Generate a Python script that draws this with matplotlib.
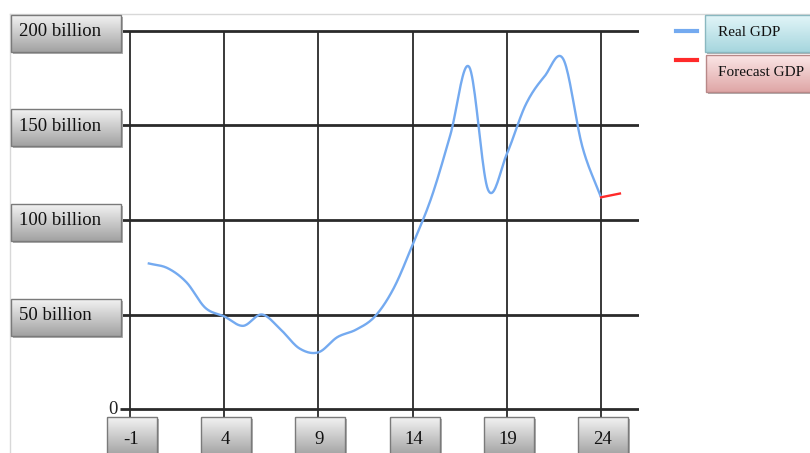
import numpy as np
import matplotlib
matplotlib.use("Agg")
import matplotlib.pyplot as plt
from matplotlib.colors import LinearSegmentedColormap
from matplotlib.patches import Rectangle
from matplotlib.lines import Line2D

# data
years = list(range(0, 25))
real_gdp = [77, 74.5, 67, 53.5, 49, 44, 50, 42, 32, 30, 38, 42, 49, 64, 87,
            112, 145, 181, 116, 135, 161, 176, 185, 139, 112]
forecast_years = [24, 25]
forecast_gdp = [112, 114]
xticks = [-1, 4, 9, 14, 19, 24]
yticks = [0, 50, 100, 150, 200]
ylabels = ['0', '50 billion', '100 billion', '150 billion', '200 billion']
legend_names = ['Real GDP', 'Forecast GDP']

blue = '#74aaf0'
red = '#ff2a2a'
font = 'Liberation Serif'


def smooth(x, y, n=20):
    # catmull-rom through the points, like the smoothed line in the original
    x = np.asarray(x, float)
    y = np.asarray(y, float)
    if len(x) < 3:
        return x, y
    px = np.concatenate([[2 * x[0] - x[1]], x, [2 * x[-1] - x[-2]]])
    py = np.concatenate([[2 * y[0] - y[1]], y, [2 * y[-1] - y[-2]]])
    xs, ys = [], []
    t = np.linspace(0, 1, n, endpoint=False)
    for i in range(1, len(px) - 2):
        for arr, out in ((px, xs), (py, ys)):
            p0, p1, p2, p3 = arr[i - 1], arr[i], arr[i + 1], arr[i + 2]
            out.append(0.5 * (2 * p1 + (-p0 + p2) * t
                              + (2 * p0 - 5 * p1 + 4 * p2 - p3) * t ** 2
                              + (-p0 + 3 * p1 - 3 * p2 + p3) * t ** 3))
    xs.append([x[-1]])
    ys.append([y[-1]])
    return np.concatenate(xs), np.concatenate(ys)


fig = plt.figure(figsize=(8.1, 4.53), dpi=100)
ax = fig.add_axes([0.1477, 0.0804, 0.6409, 0.8596])
ax.set_xlim(-1.55, 26.0)
ax.set_ylim(-4, 202)
ax.axis('off')

# grid
ax.hlines(yticks, -1.55, 26.0, color='#2a2a2a', lw=2.0, zorder=1)
ax.vlines(xticks, -4, 200, color='#2a2a2a', lw=1.3, zorder=1)

sx, sy = smooth(years, real_gdp)
ax.plot(sx, sy, color=blue, lw=1.7, zorder=3)
ax.plot(forecast_years, forecast_gdp, color=red, lw=1.7, zorder=3)

# overlay in pixel coordinates for the boxed labels
ov = fig.add_axes([0, 0, 1, 1])
ov.patch.set_visible(False)
ov.axis('off')
W, H = 810, 453


def to_px(x, y):
    fx, fy = ax.transData.transform((x, y))
    return fx, H - fy


def gbox(x0, y0, x1, y1, top, bottom, edge):
    ov.add_patch(Rectangle((x0 + 2, y0 + 2), x1 - x0, y1 - y0,
                           facecolor='#b0b0b0', edgecolor='none', zorder=4))
    cmap = LinearSegmentedColormap.from_list('g', [top, bottom])
    grad = np.linspace(0, 1, 64).reshape(-1, 1)
    ov.imshow(grad, extent=(x0, x1, y1, y0), origin='upper', aspect='auto',
              cmap=cmap, zorder=5, interpolation='bilinear')
    ov.add_patch(Rectangle((x0, y0), x1 - x0, y1 - y0, facecolor='none',
                           edgecolor=edge, lw=1.0, zorder=6))


# y labels
for v, lab in zip(yticks, ylabels):
    _, py = to_px(0, v)
    if v == 0:
        ov.text(113, py, lab, family=font, fontsize=13.5, ha='center',
                va='center', color='#222222', zorder=7)
        continue
    gbox(11, py - 16, 121, py + 21, '#f2f2f2', '#a2a2a2', '#7a7a7a')
    ov.text(19, py + 1, lab, family=font, fontsize=13.5, ha='left',
            va='center', color='#111111', zorder=7)

# x labels
for v in xticks:
    px, _ = to_px(v, 0)
    gbox(px - 23, 417, px + 27, 456, '#f2f2f2', '#a2a2a2', '#7a7a7a')
    ov.text(px + 1, 439, str(v), family=font, fontsize=13.5, ha='center',
            va='center', color='#111111', zorder=7)

# legend
gbox(705, 15, 813, 52, '#e2f5f8', '#a6d6de', '#8ab8c0')
gbox(706, 55, 813, 92, '#fbe6e6', '#dfa6a6', '#b88888')
ov.add_line(Line2D([676, 697], [31, 31], color=blue, lw=3, zorder=7))
ov.add_line(Line2D([676, 697], [60, 60], color=red, lw=3, zorder=7))
ov.text(718, 32, legend_names[0], family=font, fontsize=11, va='center',
        color='#111111', zorder=8)
ov.text(718, 73, legend_names[1], family=font, fontsize=11, va='center',
        color='#111111', zorder=8)

# faint outer frame
ov.add_line(Line2D([10, W], [14, 14], color='#d8d8d8', lw=1, zorder=2))
ov.add_line(Line2D([10, 10], [14, H], color='#d8d8d8', lw=1, zorder=2))

ov.set_xlim(0, W)
ov.set_ylim(H, 0)

fig.savefig('out.png', dpi=100)
